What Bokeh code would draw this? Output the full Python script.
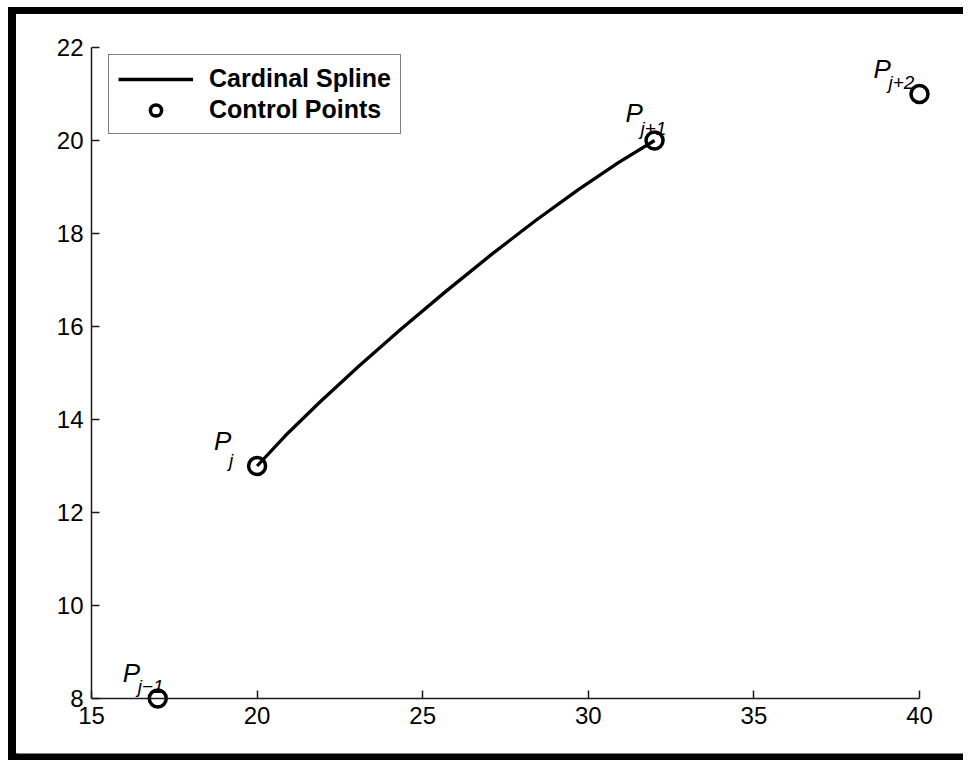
from bokeh.plotting import figure
from bokeh.models import (Legend, LegendItem, ColumnDataSource, Range1d,
                          FixedTicker, LinearAxis)
from bokeh.core.properties import value
from bokeh.embed import file_html
from bokeh.resources import INLINE

# ---- data ----
ctrl_x = [17, 20, 32, 40]
ctrl_y = [8, 13, 20, 21]
ctrl_main = ["P", "P", "P", "P"]
ctrl_sub = ["j\u22121", "j", "j+1", "j+2"]

spline_x = [20.0, 20.85, 21.89, 23.06, 24.34, 25.69, 27.06, 28.41, 29.71, 30.92, 32.0]
spline_y = [13.0, 13.65, 14.37, 15.14, 15.94, 16.75, 17.54, 18.28, 18.95, 19.53, 20.0]

x_ticks = [15, 20, 25, 30, 35, 40]
y_ticks = [8, 10, 12, 14, 16, 18, 20, 22]
x_lo, x_hi = 15, 40
y_lo, y_hi = 8, 22

# ---- layout (page px) ----
W, H = 963, 760
FR_L, FR_T, FR_R, FR_B = 16, 14, 963, 753      # white drawing area inside black frame
AX_L, AX_R, AX_T, AX_B = 91, 919, 47, 698        # where the axes sit
sx = (AX_R - AX_L) / (x_hi - x_lo)
sy = (AX_B - AX_T) / (y_hi - y_lo)
xr = Range1d(x_lo - (AX_L - FR_L) / sx, x_hi + (FR_R - AX_R) / sx)
yr = Range1d(y_lo - (FR_B - AX_B) / sy, y_hi + (AX_T - FR_T) / sy)

# ---- label placement (screen px, style only) ----
p_dx = [-35, -43, -29, -46]
p_dy = [-26, -25, -28, -25]
s_dx = [-20, -28, -14, -31]
s_dy = [-12, -6, -12, -12]

FONT = "Liberation Sans"
INK = "#1a1a1a"

p = figure(width=W, height=H, x_range=xr, y_range=yr,
           output_backend="svg", toolbar_location=None,
           x_axis_location=None, y_axis_location=None,
           min_border_left=FR_L, min_border_top=FR_T,
           min_border_right=W - FR_R, min_border_bottom=H - FR_B)
# black frame on the left, top and bottom, on a white page
blk = "linear-gradient(black, black)"
p.styles = {"background-color": "white",
            "background-image": f"{blk}, {blk}, {blk}",
            "background-size": "8px 753px, 963px 7px, 963px 7px",
            "background-position": "8px 7px, 8px 7px, 8px 753px",
            "background-repeat": "no-repeat"}
p.border_fill_alpha = 0.0
p.background_fill_color = "white"
p.grid.visible = False
p.outline_line_color = None

xaxis = LinearAxis(fixed_location=y_lo, bounds=(x_lo, x_hi),
                   ticker=FixedTicker(ticks=x_ticks))
yaxis = LinearAxis(fixed_location=x_lo, bounds=(y_lo, y_hi),
                   ticker=FixedTicker(ticks=y_ticks))
p.add_layout(xaxis, "below")
p.add_layout(yaxis, "left")

for ax in (xaxis, yaxis):
    ax.major_tick_in = 8
    ax.major_tick_out = 0
    ax.minor_tick_in = 0
    ax.minor_tick_out = 0
    ax.axis_line_width = 1.5
    ax.axis_line_color = INK
    ax.major_tick_line_width = 1.5
    ax.major_tick_line_color = INK
    ax.major_label_text_font = FONT
    ax.major_label_text_font_size = "24px"
    ax.major_label_text_color = "black"
    ax.major_label_standoff = 8

line_r = p.line(spline_x, spline_y, line_width=3.3, line_color="black")
pts_r = p.scatter(ctrl_x, ctrl_y, marker="circle", size=17, line_width=3.5,
                  line_color="black", fill_color=None)

lab = ColumnDataSource(dict(x=ctrl_x, y=ctrl_y, main=ctrl_main, sub=ctrl_sub,
                            pdx=p_dx, pdy=p_dy, sdx=s_dx, sdy=s_dy))
p.text(x="x", y="y", text="main", source=lab, x_offset="pdx", y_offset="pdy",
       text_font=value(FONT), text_font_style="italic", text_font_size="26px",
       text_color="black", text_align="left", text_baseline="alphabetic")
p.text(x="x", y="y", text="sub", source=lab, x_offset="sdx", y_offset="sdy",
       text_font=value(FONT), text_font_style="italic", text_font_size="19px",
       text_color="black", text_align="left", text_baseline="alphabetic")

LEG_L, LEG_B = 108, 134
legend = Legend(items=[LegendItem(label="Cardinal Spline", renderers=[line_r]),
                       LegendItem(label="Control Points", renderers=[pts_r])],
                location=(LEG_L - FR_L, FR_B - LEG_B), padding=9, spacing=2,
                glyph_width=75, glyph_height=28, label_height=28,
                label_standoff=16,
                label_text_font=FONT, label_text_font_size="25px",
                label_text_font_style="bold", label_text_color="black",
                border_line_color="black", border_line_width=1.5,
                background_fill_color="white", background_fill_alpha=1.0)
p.add_layout(legend)

open("out.html", "w").write(file_html(p, INLINE))
